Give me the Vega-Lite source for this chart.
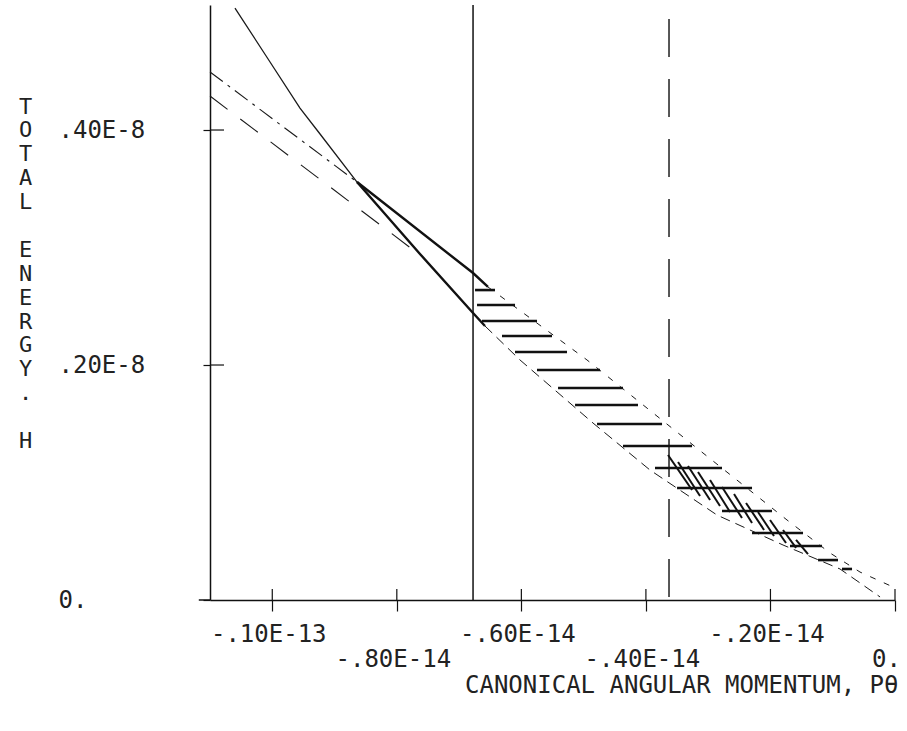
{
  "$schema": "https://vega.github.io/schema/vega-lite/v6.json",
  "width": 685,
  "height": 595,
  "autosize": {"type": "none"},
  "padding": {"left": 210, "top": 5, "right": 12, "bottom": 131},
  "background": "white",
  "config": {"view": {"stroke": null}, "font": "DejaVu Sans Mono"},
  "datasets": {
    "curves": [
      {"s": "A", "o": 1, "p": -1.0599, "h": 0.5038},
      {"s": "A", "o": 2, "p": -1.0036, "h": 0.4579},
      {"s": "A", "o": 3, "p": -0.9555, "h": 0.4187},
      {"s": "A", "o": 4, "p": -0.9233, "h": 0.3966},
      {"s": "A", "o": 5, "p": -0.8639, "h": 0.3557},
      {"s": "B", "o": 1, "p": -1.1, "h": 0.4494},
      {"s": "B", "o": 2, "p": -0.8639, "h": 0.3557},
      {"s": "C", "o": 1, "p": -1.1, "h": 0.4289},
      {"s": "C", "o": 2, "p": -0.7628, "h": 0.2936},
      {"s": "HU", "o": 1, "p": -0.8639, "h": 0.3557},
      {"s": "HU", "o": 2, "p": -0.6776, "h": 0.2783},
      {"s": "HU", "o": 3, "p": -0.6536, "h": 0.2664},
      {"s": "HL", "o": 1, "p": -0.8639, "h": 0.3557},
      {"s": "HL", "o": 2, "p": -0.7628, "h": 0.2945},
      {"s": "HL", "o": 3, "p": -0.6776, "h": 0.2443},
      {"s": "HL", "o": 4, "p": -0.6584, "h": 0.2332},
      {"s": "U", "o": 1, "p": -0.6536, "h": 0.2664},
      {"s": "U", "o": 2, "p": -0.4946, "h": 0.2043},
      {"s": "U", "o": 3, "p": -0.3083, "h": 0.1251},
      {"s": "U", "o": 4, "p": -0.1734, "h": 0.0681},
      {"s": "U", "o": 5, "p": -0.1043, "h": 0.0400},
      {"s": "U", "o": 6, "p": -0.0562, "h": 0.0238},
      {"s": "U", "o": 7, "p": -0.0032, "h": 0.0111},
      {"s": "L", "o": 1, "p": -0.6584, "h": 0.2332},
      {"s": "L", "o": 2, "p": -0.6022, "h": 0.2043},
      {"s": "L", "o": 3, "p": -0.4849, "h": 0.1506},
      {"s": "L", "o": 4, "p": -0.3934, "h": 0.1106},
      {"s": "L", "o": 5, "p": -0.2858, "h": 0.0723},
      {"s": "L", "o": 6, "p": -0.1798, "h": 0.0468},
      {"s": "L", "o": 7, "p": -0.0883, "h": 0.0264},
      {"s": "L", "o": 8, "p": -0.0240, "h": 0.0026}
    ],
    "vlines": [
      {"s": "solid", "p": -0.6776, "h": 0, "h2": 0.5064},
      {"s": "dashed", "p": -0.3629, "h": 0.0026, "h2": 0.5064}
    ],
    "hatch": [
      {"p": -0.6744, "p2": -0.6423, "h": 0.2638},
      {"p": -0.6712, "p2": -0.6102, "h": 0.2511},
      {"p": -0.6632, "p2": -0.5749, "h": 0.2374},
      {"p": -0.6311, "p2": -0.5508, "h": 0.2247},
      {"p": -0.6102, "p2": -0.5267, "h": 0.2111},
      {"p": -0.5749, "p2": -0.4737, "h": 0.1957},
      {"p": -0.5411, "p2": -0.4368, "h": 0.1804},
      {"p": -0.5138, "p2": -0.4127, "h": 0.1660},
      {"p": -0.4785, "p2": -0.3741, "h": 0.1498},
      {"p": -0.4368, "p2": -0.3259, "h": 0.1311},
      {"p": -0.3854, "p2": -0.2778, "h": 0.1123},
      {"p": -0.3500, "p2": -0.2296, "h": 0.0953},
      {"p": -0.2778, "p2": -0.1975, "h": 0.0757},
      {"p": -0.2296, "p2": -0.1477, "h": 0.0570},
      {"p": -0.1686, "p2": -0.1172, "h": 0.0460},
      {"p": -0.1236, "p2": -0.0915, "h": 0.0340},
      {"p": -0.0851, "p2": -0.0690, "h": 0.0264}
    ],
    "diag": [
      {"p": -0.3645, "h": 0.1234, "p2": -0.3259, "h2": 0.0936},
      {"p": -0.3484, "h": 0.1174, "p2": -0.3131, "h2": 0.0885},
      {"p": -0.3324, "h": 0.1140, "p2": -0.2970, "h2": 0.0851},
      {"p": -0.3163, "h": 0.1089, "p2": -0.2810, "h2": 0.0800},
      {"p": -0.2970, "h": 0.1021, "p2": -0.2649, "h2": 0.0749},
      {"p": -0.2778, "h": 0.0962, "p2": -0.2457, "h2": 0.0698},
      {"p": -0.2585, "h": 0.0902, "p2": -0.2296, "h2": 0.0655},
      {"p": -0.2392, "h": 0.0826, "p2": -0.2103, "h2": 0.0596},
      {"p": -0.2200, "h": 0.0749, "p2": -0.1943, "h2": 0.0545},
      {"p": -0.2007, "h": 0.0681, "p2": -0.1750, "h2": 0.0485},
      {"p": -0.1798, "h": 0.0596, "p2": -0.1589, "h2": 0.0443},
      {"p": -0.1589, "h": 0.0511, "p2": -0.1397, "h2": 0.0391}
    ],
    "xticks": [
      {"p": -1, "h": 0, "h2": 0.0094},
      {"p": -0.8, "h": 0, "h2": 0.0094},
      {"p": -0.6, "h": 0, "h2": 0.0094},
      {"p": -0.4, "h": 0, "h2": 0.0094},
      {"p": -0.2, "h": 0, "h2": 0.0094},
      {"p": 0, "h": 0, "h2": 0.0094}
    ],
    "yticks": [
      {"p": -1.1, "p2": -1.0775, "h": 0.2},
      {"p": -1.1, "p2": -1.0775, "h": 0.4}
    ],
    "axisext": [
      {"p": -1.118, "p2": -1.1, "h": 0}
    ]
  },
  "encoding": {
    "x": {
      "field": "p", "type": "quantitative",
      "scale": {"domain": [-1.1, 0], "nice": false, "zero": false},
      "axis": {
        "values": [-1, -0.8, -0.6, -0.4, -0.2, 0],
        "labelExpr": "datum.value == -1 ? '-.10E-13' : datum.value == -0.8 ? ['', '-.80E-14'] : datum.value == -0.6 ? '-.60E-14' : datum.value == -0.4 ? ['', '-.40E-14'] : datum.value == -0.2 ? '-.20E-14' : ['', '0.']",
        "grid": false,
        "domainColor": "#111", "domainWidth": 1.5,
        "tickColor": "#111", "tickWidth": 1.2, "tickSize": 11,
        "labelFont": "DejaVu Sans Mono", "labelFontSize": 24, "labelColor": "#222",
        "labelPadding": 11, "labelLineHeight": 25,
        "labelOffset": {"condition": {"test": "datum.value == 0", "value": -9}, "value": -4},
        "labelOverlap": false, "labelFlush": false, "labelBound": false,
        "title": "CANONICAL ANGULAR MOMENTUM, Pθ",
        "titleFont": "DejaVu Sans Mono", "titleFontSize": 24, "titleFontWeight": "normal", "titleColor": "#222",
        "titleX": 688, "titleY": 92, "titleAlign": "right", "titleBaseline": "alphabetic", "titleAngle": 0
      }
    },
    "y": {
      "field": "h", "type": "quantitative",
      "scale": {"domain": [0, 0.5064], "nice": false},
      "axis": {
        "values": [0, 0.2, 0.4],
        "labelExpr": "datum.value == 0 ? '0.' : datum.value == 0.2 ? '.20E-8' : '.40E-8'",
        "grid": false,
        "domainColor": "#111", "domainWidth": 1.5,
        "tickColor": "#111", "tickWidth": 1.2, "tickSize": 7,
        "labelFont": "DejaVu Sans Mono", "labelFontSize": 24, "labelColor": "#222",
        "labelAlign": "left", "labelPadding": 145, "labelBaseline": "middle",
        "labelOverlap": false, "labelFlush": false, "labelBound": false,
        "title": ["T", "O", "T", "A", "L", "\u200b", "E", "N", "E", "R", "G", "Y", ".", "\u200b", "H"],
        "titleFont": "DejaVu Sans Mono", "titleFontSize": 22, "titleFontWeight": "normal", "titleColor": "#222",
        "titleAngle": 0, "titleX": -185, "titleY": 108, "titleAlign": "center", "titleBaseline": "alphabetic",
        "titleLineHeight": 23.9
      }
    }
  },
  "layer": [
    {"data": {"name": "curves"}, "transform": [{"filter": "datum.s == 'A'"}],
     "mark": {"type": "line", "color": "#1a1a1a", "strokeWidth": 1.3},
     "encoding": {"order": {"field": "o", "type": "quantitative"}}},
    {"data": {"name": "curves"}, "transform": [{"filter": "datum.s == 'B'"}],
     "mark": {"type": "line", "color": "#1a1a1a", "strokeWidth": 1.1, "strokeDash": [16, 6, 3, 6]},
     "encoding": {"order": {"field": "o", "type": "quantitative"}}},
    {"data": {"name": "curves"}, "transform": [{"filter": "datum.s == 'C'"}],
     "mark": {"type": "line", "color": "#1a1a1a", "strokeWidth": 1.1, "strokeDash": [22, 16]},
     "encoding": {"order": {"field": "o", "type": "quantitative"}}},
    {"data": {"name": "curves"}, "transform": [{"filter": "datum.s == 'HU' || datum.s == 'HL'"}],
     "mark": {"type": "line", "color": "#111", "strokeWidth": 2.4},
     "encoding": {"detail": {"field": "s"}, "order": {"field": "o", "type": "quantitative"}}},
    {"data": {"name": "curves"}, "transform": [{"filter": "datum.s == 'U'"}],
     "mark": {"type": "line", "color": "#1a1a1a", "strokeWidth": 1, "strokeDash": [6, 9]},
     "encoding": {"order": {"field": "o", "type": "quantitative"}}},
    {"data": {"name": "curves"}, "transform": [{"filter": "datum.s == 'L'"}],
     "mark": {"type": "line", "color": "#1a1a1a", "strokeWidth": 1, "strokeDash": [10, 6]},
     "encoding": {"order": {"field": "o", "type": "quantitative"}}},
    {"data": {"name": "vlines"}, "transform": [{"filter": "datum.s == 'solid'"}],
     "mark": {"type": "rule", "color": "#111", "strokeWidth": 1.5},
     "encoding": {"y2": {"field": "h2"}}},
    {"data": {"name": "vlines"}, "transform": [{"filter": "datum.s == 'dashed'"}],
     "mark": {"type": "rule", "color": "#111", "strokeWidth": 1.4, "strokeDash": [38, 22]},
     "encoding": {"y2": {"field": "h2"}}},
    {"data": {"name": "hatch"},
     "mark": {"type": "rule", "color": "#111", "strokeWidth": 2.6},
     "encoding": {"x2": {"field": "p2"}}},
    {"data": {"name": "diag"},
     "mark": {"type": "rule", "color": "#111", "strokeWidth": 2},
     "encoding": {"x2": {"field": "p2"}, "y2": {"field": "h2"}}},
    {"data": {"name": "xticks"},
     "mark": {"type": "rule", "color": "#111", "strokeWidth": 1.2},
     "encoding": {"y2": {"field": "h2"}}},
    {"data": {"name": "yticks"},
     "mark": {"type": "rule", "color": "#111", "strokeWidth": 1.2},
     "encoding": {"x2": {"field": "p2"}}},
    {"data": {"name": "axisext"},
     "mark": {"type": "rule", "color": "#111", "strokeWidth": 1.5},
     "encoding": {"x2": {"field": "p2"}}}
  ]
}
